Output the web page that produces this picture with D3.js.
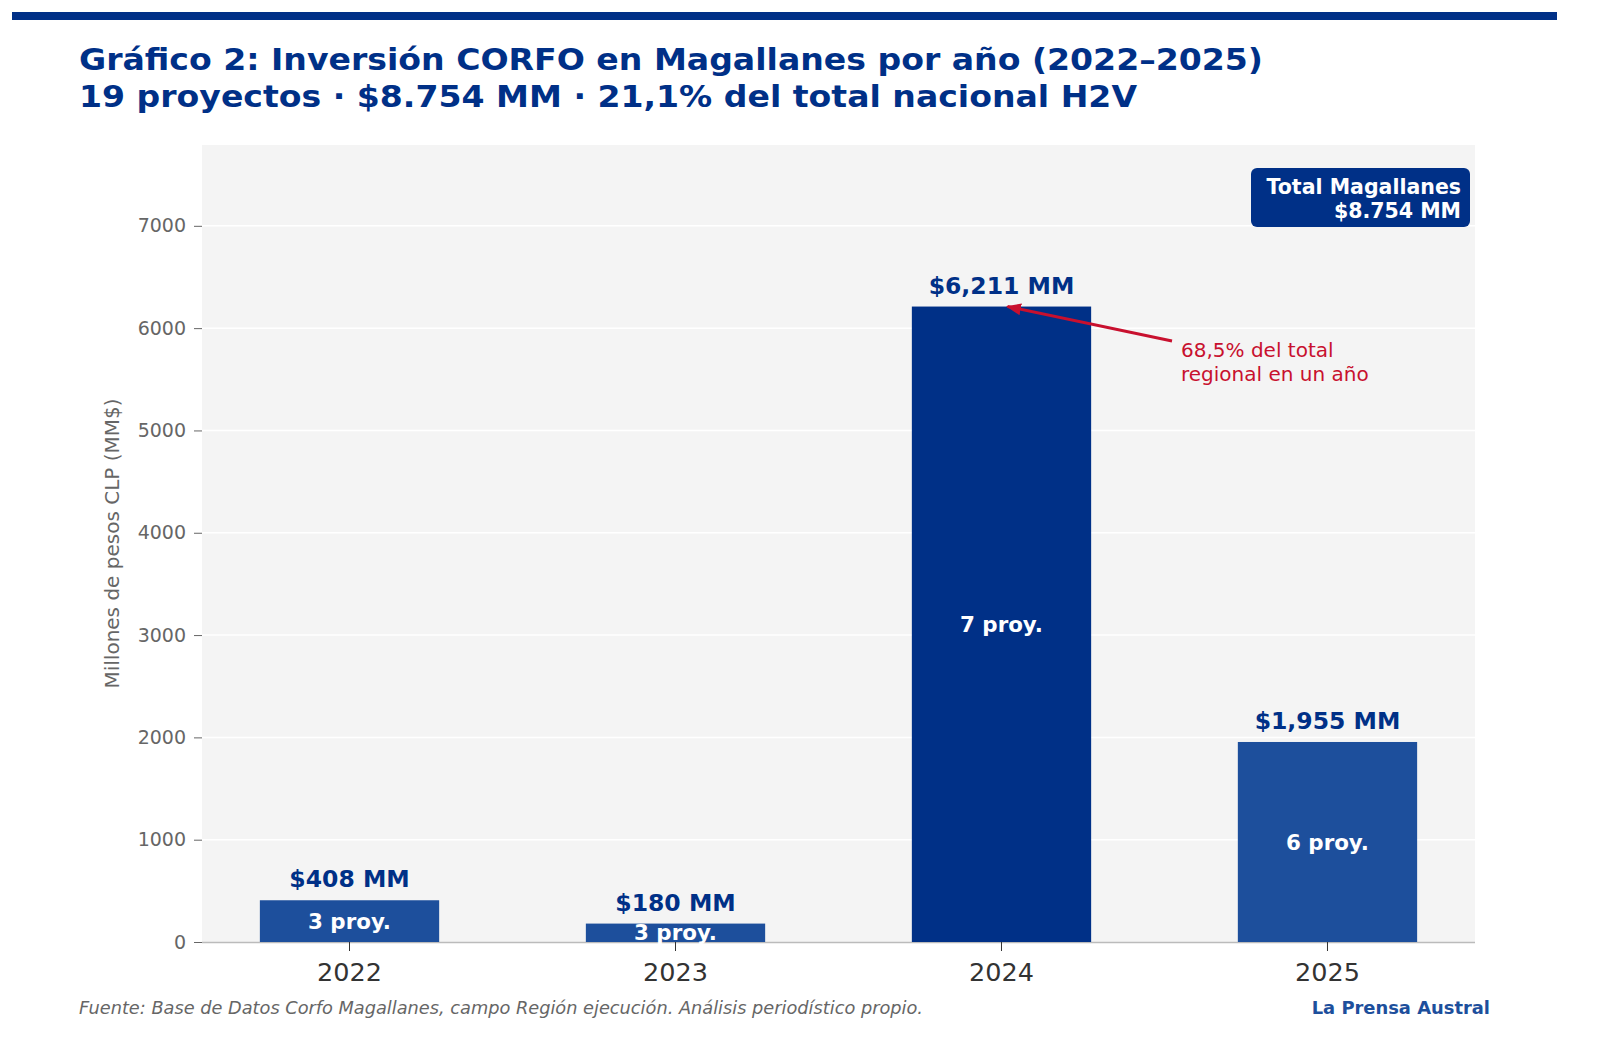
<!DOCTYPE html>
<html>
<head>
<meta charset="utf-8">
<script src="https://cdn.jsdelivr.net/npm/d3@7"></script>
<style>
  body { margin: 0; background: #fff; }
  text { font-family: "DejaVu Sans", sans-serif; }
</style>
</head>
<body>
<script>
// data
var years = ["2022", "2023", "2024", "2025"];
var amounts = [408, 180, 6211, 1955];
var projects = [3, 3, 7, 6];
var amountLabels = ["$408 MM", "$180 MM", "$6,211 MM", "$1,955 MM"];
var yTicks = [0, 1000, 2000, 3000, 4000, 5000, 6000, 7000];
var yMax = 7790;

var W = 1600, H = 1055;
var plotL = 202, plotR = 1475, plotT = 145, plotB = 942;
var navy = "#003087", mid = "#1d4f9c", red = "#c8102e";

var svg = d3.select("body").append("svg")
    .attr("width", W).attr("height", H);

// top rule
svg.append("rect").attr("x", 12).attr("y", 12).attr("width", 1545).attr("height", 8)
    .style("fill", navy);

// titles
svg.append("text").attr("x", 79).attr("y", 70)
    .attr("textLength", 1184).attr("lengthAdjust", "spacingAndGlyphs")
    .style("font-size", "30px").style("font-weight", "bold").style("fill", navy)
    .text("Gráfico 2: Inversión CORFO en Magallanes por año (2022–2025)");
svg.append("text").attr("x", 79).attr("y", 107)
    .attr("textLength", 1058).attr("lengthAdjust", "spacingAndGlyphs")
    .style("font-size", "30px").style("font-weight", "bold").style("fill", navy)
    .text("19 proyectos · $8.754 MM · 21,1% del total nacional H2V");

var x = d3.scaleBand().domain(years).range([plotL, plotR])
    .paddingInner(0.45).paddingOuter(0.1775);
var y = d3.scaleLinear().domain([0, yMax]).range([plotB, plotT]);

// plot background
svg.append("rect").attr("x", plotL).attr("y", plotT)
    .attr("width", plotR - plotL).attr("height", plotB - plotT)
    .style("fill", "#f4f4f4");

// grid
svg.selectAll("line.grid").data(yTicks.slice(1)).enter().append("line")
    .attr("class", "grid")
    .attr("x1", plotL).attr("x2", plotR)
    .attr("y1", function(d){ return y(d); }).attr("y2", function(d){ return y(d); })
    .style("stroke", "#ffffff").style("stroke-width", 1.5);

// y axis
var yAxis = svg.append("g").attr("transform", "translate(" + plotL + ",0)")
    .call(d3.axisLeft(y).tickValues(yTicks).tickSize(8).tickPadding(8).tickFormat(d3.format("d")));
yAxis.select(".domain").remove();
yAxis.selectAll("line").style("stroke", "#666");
yAxis.selectAll("text").style("font-size", "19px").style("fill", "#666")
    .style("font-family", "DejaVu Sans, sans-serif");

// x axis
var xAxis = svg.append("g").attr("transform", "translate(0," + plotB + ")")
    .call(d3.axisBottom(x).tickSize(9).tickPadding(12));
xAxis.select(".domain").attr("d", "M" + plotL + ",0.5H" + plotR).style("stroke", "#bbbbbb").style("stroke-width", 1.5);
xAxis.selectAll("line").style("stroke", "#333");
xAxis.selectAll("text").style("font-size", "25.5px").style("fill", "#333")
    .style("font-family", "DejaVu Sans, sans-serif");

// y label
svg.append("text")
    .attr("transform", "translate(119," + ((plotT + plotB) / 2) + ") rotate(-90)")
    .attr("text-anchor", "middle")
    .style("font-size", "20px").style("fill", "#666")
    .text("Millones de pesos CLP (MM$)");

// bars
svg.selectAll("rect.bar").data(amounts).enter().append("rect")
    .attr("class", "bar")
    .attr("x", function(d, i){ return x(years[i]); })
    .attr("y", function(d){ return y(d); })
    .attr("width", x.bandwidth())
    .attr("height", function(d){ return y(0) - y(d); })
    .style("fill", function(d, i){ return i === 2 ? navy : mid; });

// value labels
svg.selectAll("text.val").data(amounts).enter().append("text")
    .attr("class", "val")
    .attr("x", function(d, i){ return x(years[i]) + x.bandwidth() / 2; })
    .attr("y", function(d){ return y(d) - 13; })
    .attr("text-anchor", "middle")
    .style("font-size", "23.5px").style("font-weight", "bold").style("fill", navy)
    .text(function(d, i){ return amountLabels[i]; });

// project counts inside bars
svg.selectAll("text.proj").data(amounts).enter().append("text")
    .attr("class", "proj")
    .attr("x", function(d, i){ return x(years[i]) + x.bandwidth() / 2; })
    .attr("y", function(d){ return y(d / 2); })
    .attr("dy", "0.36em")
    .attr("text-anchor", "middle")
    .style("font-size", "21.4px").style("font-weight", "bold").style("fill", "#fff")
    .text(function(d, i){ return projects[i] + " proy."; });

// annotation arrow
svg.append("defs").append("marker")
    .attr("id", "head").attr("viewBox", "0 0 10 10")
    .attr("refX", 9).attr("refY", 5)
    .attr("markerWidth", 5).attr("markerHeight", 5)
    .attr("orient", "auto")
    .append("path").attr("d", "M0,1 L10,5 L0,9 Z").style("fill", red);
var tip = [x("2024") + x.bandwidth() / 2 + 6, y(amounts[2])];
svg.append("line")
    .attr("x1", 1172).attr("y1", 341)
    .attr("x2", tip[0]).attr("y2", tip[1])
    .style("stroke", red).style("stroke-width", 3)
    .attr("marker-end", "url(#head)");
svg.append("text").attr("x", 1181).attr("y", 357)
    .style("font-size", "20px").style("fill", red)
    .text("68,5% del total");
svg.append("text").attr("x", 1181).attr("y", 381)
    .style("font-size", "20px").style("fill", red)
    .text("regional en un año");

// total box
svg.append("rect").attr("x", 1251).attr("y", 168).attr("width", 219).attr("height", 59)
    .attr("rx", 6).style("fill", navy);
svg.append("text").attr("x", 1461).attr("y", 193.5).attr("text-anchor", "end")
    .style("font-size", "20.5px").style("font-weight", "bold").style("fill", "#fff")
    .text("Total Magallanes");
svg.append("text").attr("x", 1461).attr("y", 217.5).attr("text-anchor", "end")
    .style("font-size", "20.5px").style("font-weight", "bold").style("fill", "#fff")
    .text("$8.754 MM");

// footer
svg.append("text").attr("x", 79).attr("y", 1014)
    .attr("textLength", 844).attr("lengthAdjust", "spacingAndGlyphs")
    .style("font-size", "17.5px").style("font-style", "italic").style("fill", "#666")
    .text("Fuente: Base de Datos Corfo Magallanes, campo Región ejecución. Análisis periodístico propio.");
svg.append("text").attr("x", 1490).attr("y", 1014).attr("text-anchor", "end")
    .style("font-size", "17.9px").style("font-weight", "bold").style("fill", mid)
    .text("La Prensa Austral");
</script>
</body>
</html>
